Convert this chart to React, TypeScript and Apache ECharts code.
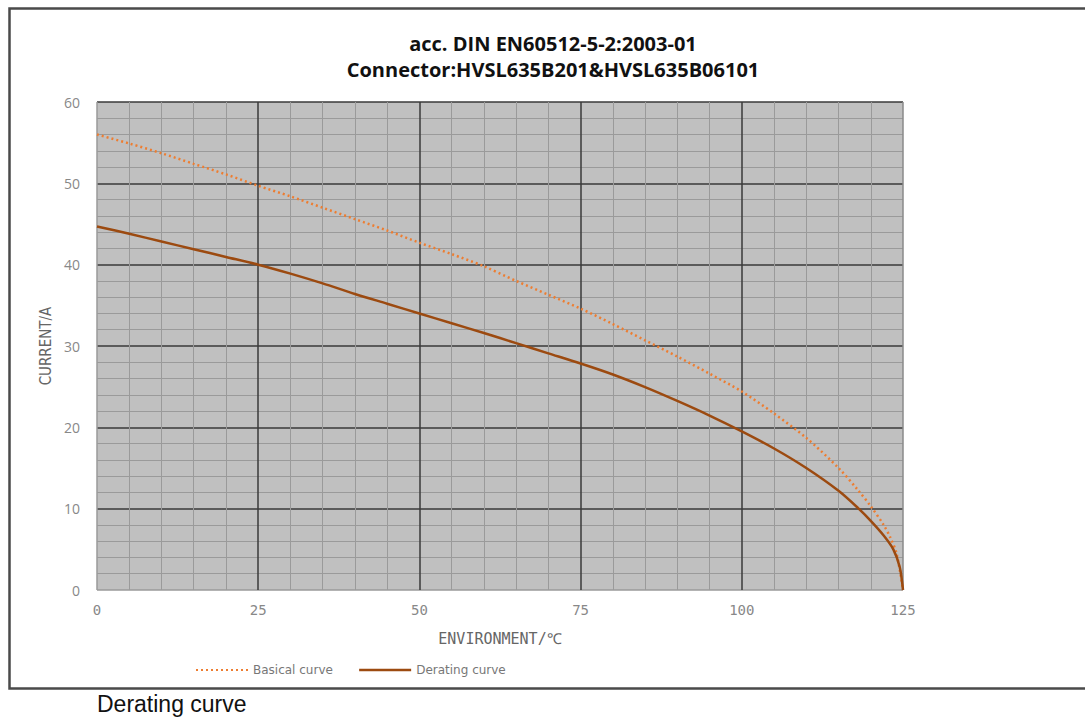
import React, { useEffect, useRef } from "react";
import * as echarts from "echarts";

const titleLines = ["acc. DIN EN60512-5-2:2003-01", "Connector:HVSL635B201&HVSL635B06101"];
const xTickLabels = ["0", "25", "50", "75", "100", "125"];
const yTickLabels = ["0", "10", "20", "30", "40", "50", "60"];

const basicTemp = [0, 5, 10, 15, 20, 25, 30, 35, 40, 45, 50, 55, 60, 65, 70, 75, 80, 85, 90, 95, 100, 105, 110, 115, 118, 120, 122, 123, 124, 125];
const basicCurrent = [56, 54.9, 53.7, 52.4, 51.1, 49.7, 48.4, 47.0, 45.6, 44.2, 42.7, 41.3, 39.8, 38.0, 36.3, 34.6, 32.7, 30.7, 28.7, 26.6, 24.4, 21.7, 18.7, 15.0, 12.3, 10.3, 8.0, 6.5, 4.5, 0];

const deratingTemp = [0, 5, 10, 15, 20, 25, 30, 35, 40, 45, 50, 55, 60, 65, 70, 75, 80, 85, 90, 95, 100, 105, 110, 115, 118, 120, 122, 123.5, 124.5, 125];
const deratingCurrent = [44.7, 43.8, 42.85, 41.9, 40.95, 40.0, 38.9, 37.7, 36.4, 35.2, 34.0, 32.8, 31.6, 30.35, 29.1, 27.85, 26.5, 24.95, 23.25, 21.45, 19.5, 17.4, 15.0, 12.2, 10.1, 8.5, 6.7, 5.0, 2.8, 0];

const seriesNames = ["Basical curve", "Derating curve"];

export default function App() {
  const ref = useRef<HTMLDivElement>(null);
  useEffect(() => {
    if (!ref.current) return;
    const chart = echarts.init(ref.current, undefined, { renderer: "svg" });
    const basicData = basicTemp.map((t, i) => [t, basicCurrent[i]]);
    const deratingData = deratingTemp.map((t, i) => [t, deratingCurrent[i]]);
    const dark = "#3a3a3a";
    const minor = "#9a9a9a";
    chart.setOption({
      animation: false,
      backgroundColor: "#ffffff",
      title: {
        text: titleLines.join("\n"),
        left: 548,
        textAlign: "center",
        top: 25,
        textStyle: {
          fontFamily: "Open Sans",
          fontWeight: "bold",
          fontSize: 20,
          lineHeight: 26,
          color: "#111",
        },
      },
      graphic: [
        {
          type: "rect",
          shape: { x: 9.5, y: 8.5, width: 1100, height: 680 },
          style: { fill: "none", stroke: "#4a4a4a", lineWidth: 2.5 },
          silent: true,
        },
        {
          type: "text",
          left: 97,
          top: 692,
          style: {
            text: "Derating curve",
            fontFamily: "Liberation Sans",
            fontSize: 23,
            fill: "#111",
          },
        },
      ],
      legend: {
        left: 190,
        top: 659,
        itemWidth: 52,
        itemHeight: 12,
        itemGap: 25,
        textStyle: { fontFamily: "DejaVu Sans", fontSize: 12, color: "#777" },
        data: [
          {
            name: seriesNames[0],
            itemStyle: { opacity: 0 },
            lineStyle: { type: [2, 3], color: "#ed7d31", width: 2 },
          },
          {
            name: seriesNames[1],
            itemStyle: { opacity: 0 },
            lineStyle: { type: "solid", color: "#9c4a10", width: 2.5 },
          },
        ],
      },
      grid: {
        left: 97,
        top: 102,
        width: 806,
        height: 488,
        show: true,
        backgroundColor: "#c0c0c0",
        borderWidth: 0,
      },
      xAxis: {
        type: "value",
        min: 0,
        max: 125,
        interval: 25,
        name: "ENVIRONMENT/℃",
        nameLocation: "middle",
        nameGap: 41,
        nameTextStyle: { fontFamily: "DejaVu Sans Mono", fontSize: 15, color: "#666" },
        axisLine: { show: false },
        axisTick: { show: false },
        axisLabel: {
          margin: 13,
          fontFamily: "DejaVu Sans Mono",
          fontSize: 14,
          color: "#888",
          formatter: (v: number) => xTickLabels[Math.round(v / 25)] ?? "",
        },
        splitLine: {
          show: true,
          lineStyle: { color: [minor, dark, dark, dark, dark, "#8a8a8a"], width: 1.5 },
        },
        minorTick: { show: false, splitNumber: 5 },
        minorSplitLine: { show: true, lineStyle: { color: minor, width: 1 } },
      },
      yAxis: {
        type: "value",
        min: 0,
        max: 60,
        interval: 10,
        name: "CURRENT/A",
        nameLocation: "middle",
        nameGap: 44,
        nameRotate: 90,
        nameTextStyle: { fontFamily: "DejaVu Sans Condensed", fontSize: 15, color: "#666" },
        axisLine: { show: false },
        axisTick: { show: false },
        axisLabel: {
          margin: 17,
          fontFamily: "Open Sans",
          fontSize: 14,
          color: "#888",
          formatter: (v: number) => yTickLabels[Math.round(v / 10)] ?? "",
        },
        splitLine: {
          show: true,
          lineStyle: { color: [minor, dark, dark, dark, dark, dark, dark], width: 1.5 },
        },
        minorTick: { show: false, splitNumber: 5 },
        minorSplitLine: { show: true, lineStyle: { color: minor, width: 1 } },
      },
      series: [
        {
          name: seriesNames[0],
          type: "line",
          data: basicData,
          showSymbol: false,
          symbol: "none",
          smooth: 0.3,
          lineStyle: { color: "#ed7d31", width: 2.5, type: [2, 3] },
          itemStyle: { color: "#ed7d31" },
          z: 3,
        },
        {
          name: seriesNames[1],
          type: "line",
          data: deratingData,
          showSymbol: false,
          symbol: "none",
          smooth: 0.3,
          lineStyle: { color: "#9c4a10", width: 2.5 },
          itemStyle: { color: "#9c4a10" },
          z: 4,
        },
      ],
    });
    return () => chart.dispose();
  }, []);
  return (
    <div
      ref={ref}
      style={{ position: "fixed", left: 0, top: 0, width: 1085, height: 717 }}
    />
  );
}
